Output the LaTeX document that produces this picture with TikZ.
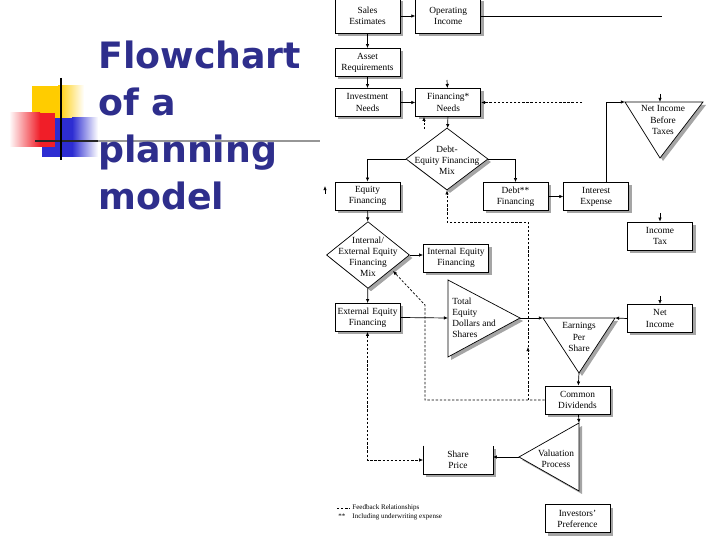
\documentclass[tikz,border=0pt]{standalone}
\usepackage{fontspec}
\setmainfont{Liberation Serif}
\newfontfamily\titlefont{DejaVu Sans}
\usetikzlibrary{arrows.meta,positioning,calc,shapes.geometric,shadows}
\definecolor{colTitle}{RGB}{46,46,140}
\definecolor{colYellow}{RGB}{255,204,0}
\definecolor{colRed}{RGB}{240,30,40}
\definecolor{colBlue}{RGB}{45,45,210}
\definecolor{colShadow}{RGB}{165,165,165}
\definecolor{colRule}{RGB}{150,150,150}

\begin{document}
\begin{tikzpicture}[x=0.03cm, y=-0.03cm, font=\fontsize{8}{9.5}\selectfont,
    sh/.style={drop shadow={shadow xshift=0.09cm, shadow yshift=-0.09cm,
      fill=colShadow, opacity=1}},
    b/.style={rectangle, draw, line width=0.6pt, fill=white, align=center,
      text width=1.88cm, minimum height=0.84cm, inner sep=1pt, sh},
    d/.style={diamond, draw, line width=0.6pt, fill=white, inner sep=0pt, sh},
    tri/.style={draw, line width=0.6pt, fill=white, sh},
    fl/.style={-{Latex[length=3.5pt,width=3pt]}, line width=0.6pt},
    fb/.style={fl, dash pattern=on 2pt off 1.5pt},
    fbb/.style={fb, {Latex[length=3.5pt,width=3pt]}-{Latex[length=3.5pt,width=3pt]}}]
    \useasboundingbox (0,0) rectangle (720,540);
    % title block
    \fill[colYellow] (32,86) rectangle (58,118);
    \shade[left color=colYellow, right color=white] (58,86) rectangle (84,118);
    \fill[colBlue] (42,118) rectangle (72,157);
    \shade[left color=colBlue, right color=white] (72,118) rectangle (98,157);
    \shade[left color=white, right color=colRed] (9,113) rectangle (40,147);
    \fill[colRed] (40,113) rectangle (55,147);
    \draw[line width=1.8pt, colRule] (35,141) -- (320,141);
    \draw[line width=1.8pt, black!85] (35,141) -- (98,141);
    \draw[line width=2pt] (61,78) -- (61,160);
    \node[anchor=north west, align=left, inner sep=0pt, text=colTitle,
      font=\titlefont\bfseries\fontsize{31}{40}\selectfont] (title) at (98,41)
      {Flowchart\\of a\\planning\\model};
    % boxes
    \node[b, minimum height=1.05cm] (sales) at (367.5,16) {Sales\\Estimates};
    \node[b, minimum height=1.05cm, right=0.45cm of sales] (opinc) {Operating\\Income};
    \node[b] (asset) at (367.5,62.5) {Asset\\Requirements};
    \node[b] (invest) at (367.5,102.5) {Investment\\Needs};
    \node[b, right=0.45cm of invest] (finneeds) {Financing*\\Needs};
    \node[d, minimum width=2.46cm, minimum height=1.86cm] (demix) at (447,159) {};
    \node[align=center] (demixtxt) at (447,160) {Debt-\\Equity Financing\\Mix};
    \node[b] (eqfin) at (367.5,196) {Equity\\Financing};
    \node[b] (debtfin) at (515.5,196.5) {Debt**\\Financing};
    \node[b, right=0.45cm of debtfin] (intexp) {Interest\\Expense};
    \coordinate (nibt-l) at (625,102);
    \coordinate (nibt-r) at (703,102);
    \coordinate (nibt-b) at (660,158);
    \draw[tri] (nibt-l) -- (nibt-r) -- (nibt-b) -- cycle;
    \node[align=center] (nibt) at (663,120) {Net Income\\Before\\Taxes};
    \node[b] (inctax) at (660,236) {Income\\Tax};
    \node[d, minimum width=2.49cm, minimum height=2.0cm] (iemix) at (368,255) {};
    \node[align=center] (iemixtxt) at (368,257) {Internal/\\External Equity\\Financing\\Mix};
    \node[b] (intfin) at (456,258) {Internal Equity\\Financing};
    \node[b] (extfin) at (367.5,317.5) {External Equity\\Financing};
    \coordinate (teds-t) at (448,280);
    \coordinate (teds-b) at (448,357);
    \coordinate (teds-p) at (520,318);
    \coordinate (teds-w) at (448,318);
    \draw[tri] (teds-t) -- (teds-p) -- (teds-b) -- cycle;
    \node[anchor=west, align=left, inner sep=1pt] (teds) at (451,318)
      {Total\\Equity\\Dollars and\\Shares};
    \coordinate (eps-l) at (543,318);
    \coordinate (eps-r) at (615,318);
    \coordinate (eps-b) at (579,373);
    \draw[tri] (eps-l) -- (eps-r) -- (eps-b) -- cycle;
    \node[align=center] (eps) at (579,337) {Earnings\\Per\\Share};
    \node[b] (netinc) at (660,318.5) {Net\\Income};
    \node[b] (comdiv) at (577.5,400) {Common\\Dividends};
    \coordinate (val-p) at (519,457);
    \coordinate (val-t) at (579,423);
    \coordinate (val-b) at (579,491);
    \draw[tri] (val-p) -- (val-t) -- (val-b) -- cycle;
    \node[align=center] (val) at (556,459) {Valuation\\Process};
    \node[b, draw=none, text width=2.0cm] (shprice) at (458,460) {Share\\Price};
    \draw[line width=0.6pt] (shprice.north west) -- (shprice.south west)
      -- (shprice.south east) -- (shprice.north east);
    \node[b] (invpref) at (577.5,518.5) {Investors'\\Preference};
    % connectors
    \coordinate (top-end) at (662,16);
    \coordinate (nibt-in) at (660,94);
    \coordinate (fn-in) at (447,80);
    \coordinate (fb-fn) at (582,102.5);
    \coordinate (fn-up) at (424,129);
    \coordinate (eq-a) at (325,194);
    \coordinate (eq-b) at (325,186);
    \coordinate (tax-in) at (660,213);
    \coordinate (ni-in) at (660,296);
    \draw[fl] (sales) -- (opinc);
    \draw[line width=0.6pt] (opinc) -- (top-end);
    \draw[fl] (nibt-in) -- (nibt-in |- nibt-l);
    \draw[fl] (sales) -- (asset);
    \draw[fl] (asset) -- (invest);
    \draw[fl] (invest) -- (finneeds);
    \draw[fl] (fn-in) -- (finneeds);
    \draw[fb] (fb-fn) -- (finneeds);
    \draw[fb] (fn-up) -- (fn-up |- finneeds.south);
    \draw[fl] (finneeds) -- (demix);
    \draw[fl] (demix.west) -| (eqfin.north);
    \draw[fl] (demix.east) -| (debtfin.north);
    \draw[fl] (eq-a) -- (eq-b);
    \draw[fl] (debtfin) -- (intexp);
    \draw[fl] ([xshift=0.315cm]intexp.north) |- (nibt-l);
    \draw[fl] (tax-in) -- (inctax);
    \draw[fl] (ni-in) -- (netinc);
    \draw[fl] (netinc.west) -- (eps-r);
    \draw[fl] (eqfin) -- (iemix);
    \draw[fl] (iemix.east) -- (iemix.east -| intfin.west);
    \draw[fl] (iemix) -- (extfin);
    \draw[fl] (extfin.east) -- (teds-w);
    \draw[fl] (teds-p) -- (eps-l);
    \draw[fl] (eps-b) -- (comdiv);
    \draw[fl] (comdiv) -- (val-t);
    \draw[fl] (val-p) -- (val-p -| shprice.east);
    % feedback loops
    \coordinate (fb-a1) at (425,400);
    \coordinate (fb-a2) at (425,305);
    \coordinate (fb-a3) at (393,271);
    \coordinate (fb-b1) at (528,400);
    \coordinate (fb-mid) at (528,347);
    \coordinate (fb-b2) at (528,222);
    \draw[fbb] (extfin.south) |- (shprice.west);
    \draw[fb] (comdiv.west) -- (fb-a1) -- (fb-a2) -- (fb-a3);
    \draw[fb] (fb-b1) -- (fb-mid);
    \draw[fb] (fb-mid) -- (fb-b2) -| (demix.south);
    % legend
    \coordinate (leg-a) at (337,508);
    \coordinate (leg-b) at (350,508);
    \draw[dash pattern=on 2pt off 1.5pt, line width=0.5pt] (leg-a) -- (leg-b);
    \node[anchor=west, inner sep=1pt, font=\fontsize{6}{7}\selectfont] (leg1) at (351,508)
      {Feedback Relationships};
    \node[anchor=west, inner sep=1pt, font=\fontsize{6}{7}\selectfont] (leg2) at (337,517)
      {**\hspace{6pt}Including underwriting expense};
\end{tikzpicture}
\end{document}
